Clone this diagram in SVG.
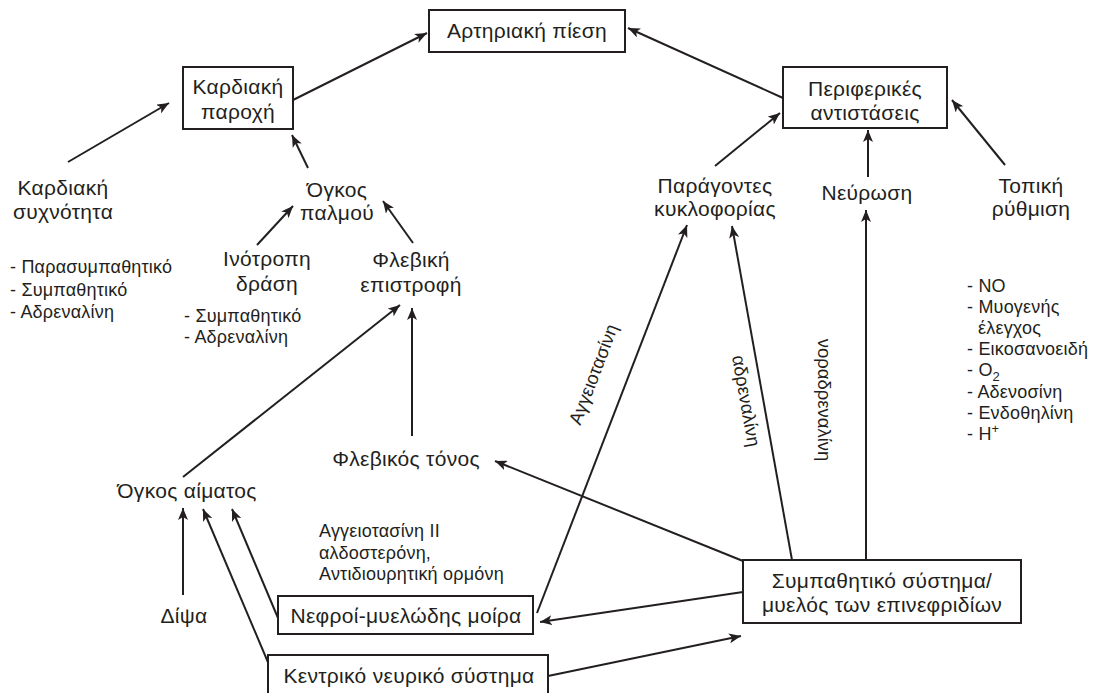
<svg xmlns="http://www.w3.org/2000/svg" width="1099" height="693" viewBox="0 0 1099 693">
<style>
  text { font-family: "Liberation Sans", Arial, sans-serif; fill: #231f20; }
  .lbl { font-size: 21px; text-anchor: middle; letter-spacing: 0.3px; }
  .lst { font-size: 18px; letter-spacing: 0.2px; }
  .rot { font-size: 18.5px; text-anchor: middle; }
  .box { fill: #fff; stroke: #231f20; stroke-width: 2; }
  .con path { fill: none; stroke: #231f20; stroke-width: 2; marker-end: url(#ah); }
</style>
<defs>
  <marker id="ah" markerUnits="userSpaceOnUse" markerWidth="13" markerHeight="10" refX="12" refY="5" orient="auto">
    <path d="M0,0 L12,5 L0,10 L3,5 Z" fill="#231f20"/>
  </marker>
</defs>
<rect width="1099" height="693" fill="#fff"/>

<g id="connectors" class="con">
  <path d="M293,100 L427,33"/>
  <path d="M783,98 L628,28"/>
  <path d="M68,162 L169,103"/>
  <path d="M308,168 L292,135"/>
  <path d="M257,245 L293,206"/>
  <path d="M413,243 L383,201"/>
  <path d="M183,477 L400,305"/>
  <path d="M412,436 L412,308"/>
  <path d="M183,595 L183,508"/>
  <path d="M270,667 L203,509"/>
  <path d="M278,618 L232,509"/>
  <path d="M537,613 L687,225"/>
  <path d="M743,561 L495,461"/>
  <path d="M743,592 L540,622"/>
  <path d="M792,560 L732,226"/>
  <path d="M866,560 L866,210"/>
  <path d="M868,177 L868,130"/>
  <path d="M715,166 L780,113"/>
  <path d="M1005,165 L952,100"/>
  <path d="M548,676 L741,636"/>
</g>

<g id="connector-labels">
  <text class="rot" transform="translate(603,378) rotate(-69)" x="0" y="-4">Αγγειοτασίνη</text>
  <text class="rot" transform="translate(740,402) rotate(80)" x="0" y="0">αδρεναλίνη</text>
  <text class="rot" transform="translate(818,400) rotate(90)" x="0" y="0">νοραδρεναλίνη</text>
</g>

<g id="n-arterial">
  <rect class="box" x="429" y="10" width="196" height="42"/>
  <text class="lbl" x="527" y="38">Αρτηριακή πίεση</text>
</g>
<g id="n-cardiac-output">
  <rect class="box" x="183" y="67" width="110" height="62"/>
  <text class="lbl" x="238" y="94">Καρδιακή</text>
  <text class="lbl" x="238" y="119">παροχή</text>
</g>
<g id="n-peripheral">
  <rect class="box" x="783" y="67" width="164" height="61"/>
  <text class="lbl" x="865" y="96">Περιφερικές</text>
  <text class="lbl" x="865" y="120">αντιστάσεις</text>
</g>
<g id="n-heart-rate">
  <text class="lbl" x="63" y="195">Καρδιακή</text>
  <text class="lbl" x="63" y="219">συχνότητα</text>
  <text class="lst" x="10" y="273">- Παρασυμπαθητικό</text>
  <text class="lst" x="10" y="296">- Συμπαθητικό</text>
  <text class="lst" x="10" y="318">- Αδρεναλίνη</text>
</g>
<g id="n-stroke-volume">
  <text class="lbl" x="337" y="197">Όγκος</text>
  <text class="lbl" x="337" y="220">παλμού</text>
</g>
<g id="n-inotropy">
  <text class="lbl" x="267" y="266">Ινότροπη</text>
  <text class="lbl" x="267" y="291">δράση</text>
  <text class="lst" x="184" y="322">- Συμπαθητικό</text>
  <text class="lst" x="184" y="343">- Αδρεναλίνη</text>
</g>
<g id="n-venous-return">
  <text class="lbl" x="411" y="267">Φλεβική</text>
  <text class="lbl" x="411" y="292">επιστροφή</text>
</g>
<g id="n-circulating">
  <text class="lbl" x="715" y="193">Παράγοντες</text>
  <text class="lbl" x="715" y="216">κυκλοφορίας</text>
</g>
<g id="n-innervation">
  <text class="lbl" x="867" y="200">Νεύρωση</text>
</g>
<g id="n-local">
  <text class="lbl" x="1031" y="193">Τοπική</text>
  <text class="lbl" x="1031" y="216">ρύθμιση</text>
  <text class="lst" x="967" y="292">- NO</text>
  <text class="lst" x="967" y="313">- Μυογενής</text>
  <text class="lst" x="978" y="334">έλεγχος</text>
  <text class="lst" x="967" y="355">- Εικοσανοειδή</text>
  <text class="lst" x="967" y="376">- O<tspan font-size="13" dy="5">2</tspan></text>
  <text class="lst" x="967" y="398">- Αδενοσίνη</text>
  <text class="lst" x="967" y="419">- Ενδοθηλίνη</text>
  <text class="lst" x="967" y="440">- H<tspan font-size="13" dy="-7">+</tspan></text>
</g>
<g id="n-venous-tone">
  <text class="lbl" x="406" y="466">Φλεβικός τόνος</text>
</g>
<g id="n-blood-volume">
  <text class="lbl" x="187" y="498">Όγκος αίματος</text>
</g>
<g id="n-hormones">
  <text class="lst" x="319" y="537">Αγγειοτασίνη II</text>
  <text class="lst" x="319" y="559">αλδοστερόνη,</text>
  <text class="lst" x="319" y="580">Αντιδιουρητική ορμόνη</text>
</g>
<g id="n-thirst">
  <text class="lbl" x="184" y="623">Δίψα</text>
</g>
<g id="n-kidney">
  <rect class="box" x="278" y="596" width="255" height="38"/>
  <text class="lbl" x="406" y="623">Νεφροί-μυελώδης μοίρα</text>
</g>
<g id="n-cns">
  <rect class="box" x="268" y="655" width="280" height="42"/>
  <text class="lbl" x="409" y="683">Κεντρικό νευρικό σύστημα</text>
</g>
<g id="n-sympathetic">
  <rect class="box" x="743" y="560" width="278" height="63"/>
  <text class="lbl" x="882" y="588">Συμπαθητικό σύστημα/</text>
  <text class="lbl" x="882" y="612">μυελός των επινεφριδίων</text>
</g>
</svg>
